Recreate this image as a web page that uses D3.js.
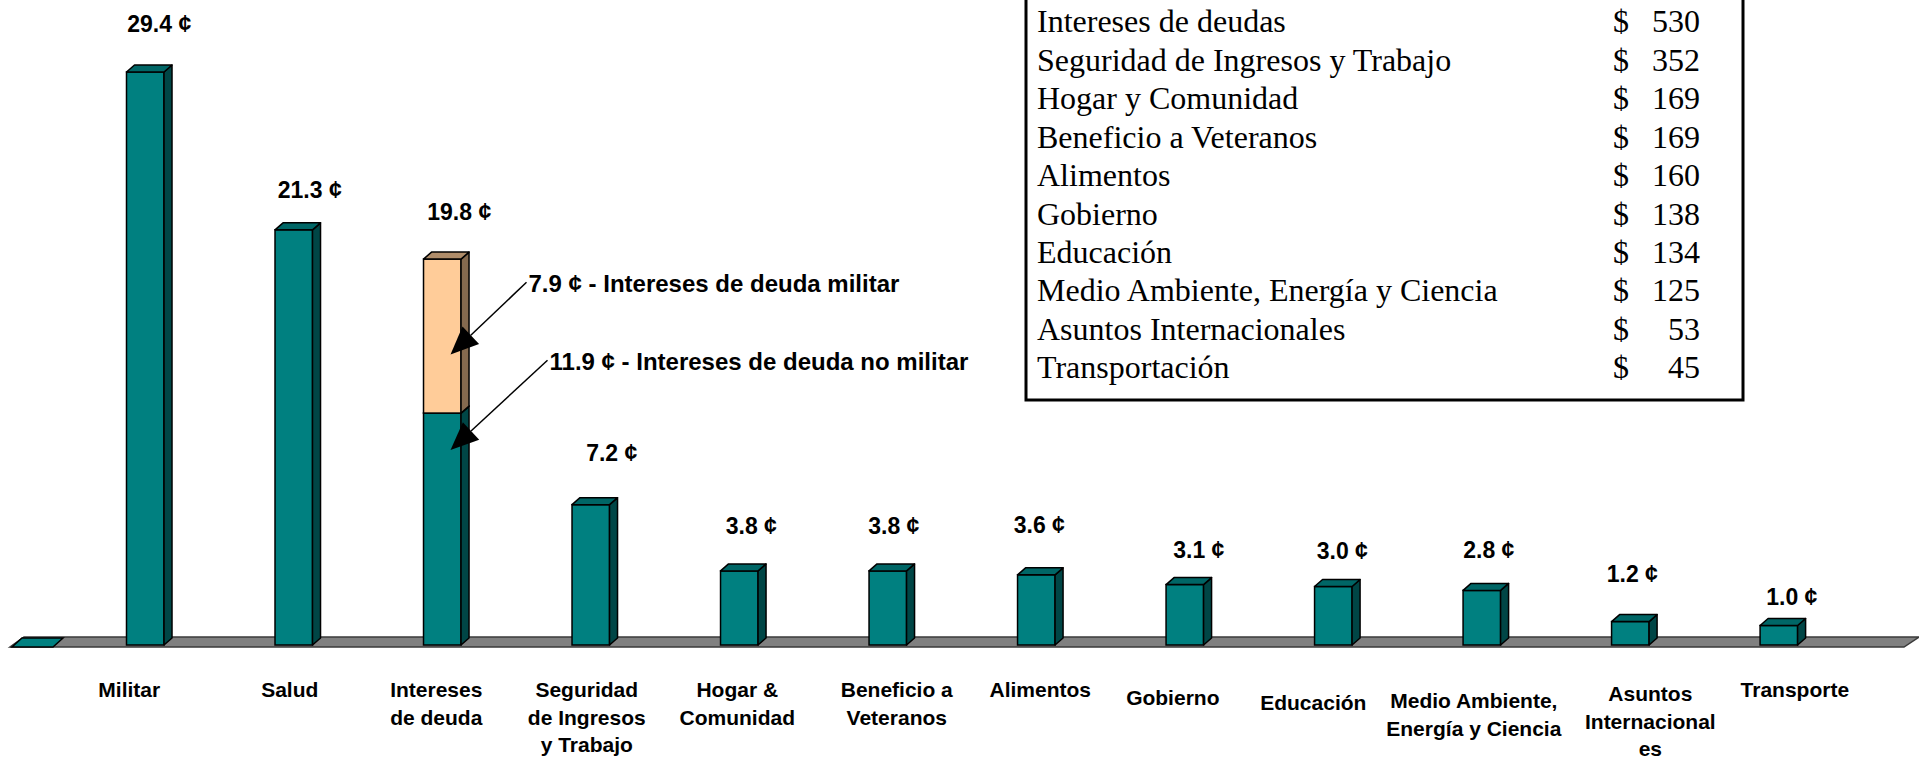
<!DOCTYPE html>
<html>
<head>
<meta charset="utf-8">
<script src="https://cdn.jsdelivr.net/npm/d3@7"></script>
<style>
    body { margin: 0; background: #ffffff; }
    .value { font-family: "Liberation Sans", Arial, sans-serif; font-weight: bold; font-size: 23px; fill: #000; }
    .cat { font-family: "Liberation Sans", Arial, sans-serif; font-weight: bold; font-size: 21px; fill: #000; }
    .note { font-family: "Liberation Sans", Arial, sans-serif; font-weight: bold; font-size: 24px; fill: #000; }
    .table { font-family: "Liberation Serif", "Times New Roman", serif; font-size: 32px; fill: #000; }
</style>
</head>
<body>
<div id="chart"></div>
<script>
var width = 1919;
var height = 760;

// DATA
var categories = ['Militar', 'Salud', 'Intereses de deuda', 'Seguridad de Ingresos y Trabajo',
    'Hogar & Comunidad', 'Beneficio a Veteranos', 'Alimentos', 'Gobierno', 'Educación',
    'Medio Ambiente, Energía y Ciencia', 'Asuntos Internacionales', 'Transporte'];
// how excel wrapped the axis labels
var categoryLines = [
    ['Militar'], ['Salud'], ['Intereses', 'de deuda'], ['Seguridad', 'de Ingresos', 'y Trabajo'],
    ['Hogar &', 'Comunidad'], ['Beneficio a', 'Veteranos'], ['Alimentos'], ['Gobierno'], ['Educación'],
    ['Medio Ambiente,', 'Energía y Ciencia'], ['Asuntos', 'Internacional', 'es'], ['Transporte']];
var centsBase = [29.4, 21.3, 11.9, 7.2, 3.8, 3.8, 3.6, 3.1, 3.0, 2.8, 1.2, 1.0];    // teal
var centsMilitaryDebt = [0, 0, 7.9, 0, 0, 0, 0, 0, 0, 0, 0, 0];                    // peach

var noteMilitary = '7.9 ¢ - Intereses de deuda militar';
var noteNonMilitary = '11.9 ¢ - Intereses de deuda no militar';

var tableNames = ['Intereses de deudas', 'Seguridad de Ingresos y Trabajo', 'Hogar y Comunidad',
    'Beneficio a Veteranos', 'Alimentos', 'Gobierno', 'Educación',
    'Medio Ambiente, Energía y Ciencia', 'Asuntos Internacionales', 'Transportación'];
var tableDollars = [530, 352, 169, 169, 160, 138, 134, 125, 53, 45];

// LAYOUT: labels were dragged around by hand in the original slide
var catNudgeX = [-16, -4, -6, -4, -2, 9, 4, -12, -20, -8, 20, 16];
var catNudgeY = [0, 0, 0, 0, 0, 0, 0, 8, 13, 11, 4, 0];
var valNudgeX = [2, 4, 5, 9, 0, -6, -9, 2, -3, -5, -10, 1];
var valNudgeY = [-2, 6, -1, -6, 1, 1, -4, 11, 10, 6, -2, 17];

// STYLE
var COLOR_TEAL = '#008080';
var COLOR_TEAL_TOP = '#006666';
var COLOR_TEAL_SIDE = '#004646';
var COLOR_PEACH = '#ffcc99';
var COLOR_PEACH_TOP = '#b08d6a';
var COLOR_PEACH_SIDE = '#856a4f';
var COLOR_FLOOR = '#808080';

var DX = 8;   // 3d depth
var DY = 7;
var BASE = 645;

var svg = d3.select('#chart')
    .append('svg')
    .attr('width', width)
    .attr('height', height)

var x = d3.scaleBand()
    .domain(categories)
    .range([126.5, 1797.6])
    .paddingInner(0.7474)
    .paddingOuter(0)

var y = d3.scaleLinear()
    .domain([0, 30])
    .range([BASE, BASE - 30 * 19.49])

var bw = x.bandwidth();

// floor
svg.append('polygon')
    .attr('points', [[10, BASE + 2], [1904, BASE + 2], [1919, BASE - 8], [24, BASE - 8]].join(' '))
    .attr('fill', COLOR_FLOOR)
    .attr('stroke', '#3a3a3a')
    .attr('stroke-width', 1.5)

// flat empty series piece at the left end of the floor
svg.append('polygon')
    .attr('points', [[12, BASE + 2], [53, BASE + 2], [63, BASE - 7], [22, BASE - 7]].join(' '))
    .attr('fill', COLOR_TEAL)
    .attr('stroke', '#000')
    .attr('stroke-width', 1.5)

var drawBlock = function (g, x0, v0, v1, front, top, side) {
    var yb = y(v0), yt = y(v1);
    g.append('rect')
        .attr('x', x0).attr('y', yt)
        .attr('width', bw).attr('height', yb - yt)
        .attr('fill', front)
        .attr('stroke', '#000').attr('stroke-width', 1.5)
    g.append('polygon')
        .attr('points', [[x0 + bw, yb], [x0 + bw + DX, yb - DY], [x0 + bw + DX, yt - DY], [x0 + bw, yt]].join(' '))
        .attr('fill', side)
        .attr('stroke', '#000').attr('stroke-width', 1.5).attr('stroke-linejoin', 'round')
    g.append('polygon')
        .attr('points', [[x0, yt], [x0 + DX, yt - DY], [x0 + bw + DX, yt - DY], [x0 + bw, yt]].join(' '))
        .attr('fill', top)
        .attr('stroke', '#000').attr('stroke-width', 1.5).attr('stroke-linejoin', 'round')
}

var bars = svg.append('g')
categories.forEach(function (c, i) {
    var x0 = x(c);
    drawBlock(bars, x0, 0, centsBase[i], COLOR_TEAL, COLOR_TEAL_TOP, COLOR_TEAL_SIDE);
    if (centsMilitaryDebt[i] > 0)
        drawBlock(bars, x0, centsBase[i], centsBase[i] + centsMilitaryDebt[i],
            COLOR_PEACH, COLOR_PEACH_TOP, COLOR_PEACH_SIDE);
})

// value labels
svg.append('g')
    .selectAll('text')
    .data(categories)
    .enter().append('text')
    .attr('class', 'value')
    .attr('text-anchor', 'middle')
    .attr('x', function (d, i) { return x(d) + bw / 2 + 12 + valNudgeX[i]; })
    .attr('y', function (d, i) { return y(centsBase[i] + centsMilitaryDebt[i]) - DY - 31 + valNudgeY[i]; })
    .text(function (d, i) { return (centsBase[i] + centsMilitaryDebt[i]).toFixed(1) + ' ¢'; })

// category labels
var cats = svg.append('g')
categories.forEach(function (c, i) {
    var t = cats.append('text')
        .attr('class', 'cat')
        .attr('text-anchor', 'middle')
        .attr('y', 697 + catNudgeY[i])
    categoryLines[i].forEach(function (line, k) {
        t.append('tspan')
            .attr('x', x(c) + bw / 2 + catNudgeX[i])
            .attr('dy', k == 0 ? 0 : 27.7)
            .text(line)
    })
})

// annotations with arrows on the debt bar
var debt = categories[2];
var notes = [
    { text: noteMilitary, tx: x(debt) + 105, ty: y(18.1), tipY: y(14.9) },
    { text: noteNonMilitary, tx: x(debt) + 126, ty: y(14.1), tipY: y(10.0) }
];

var ann = svg.append('g')
notes.forEach(function (n) {
    ann.append('text')
        .attr('class', 'note')
        .attr('x', n.tx)
        .attr('y', n.ty)
        .text(n.text)

    var x1 = n.tx - 2, y1 = n.ty - 10;
    var x2 = x(debt) + 27, y2 = n.tipY;
    var len = Math.sqrt((x2 - x1) * (x2 - x1) + (y2 - y1) * (y2 - y1));
    var ux = (x2 - x1) / len, uy = (y2 - y1) / len;
    var headL = 28, headW = 12;
    var bx = x2 - ux * headL, by = y2 - uy * headL;

    ann.append('line')
        .attr('x1', x1).attr('y1', y1)
        .attr('x2', bx).attr('y2', by)
        .attr('stroke', '#000')
        .attr('stroke-width', 1.5)
    ann.append('polygon')
        .attr('points', [[x2, y2], [bx - uy * headW, by + ux * headW], [bx + uy * headW, by - ux * headW]].join(' '))
        .attr('fill', '#000')
})

// table box top right
var tbl = svg.append('g')
tbl.append('rect')
    .attr('x', 1026)
    .attr('y', -10)
    .attr('width', 717)
    .attr('height', 410)
    .attr('fill', '#fff')
    .attr('stroke', '#000')
    .attr('stroke-width', 3)

var row = d3.scaleLinear()
    .domain([0, tableNames.length - 1])
    .range([32.3, 378.3])

tableNames.forEach(function (name, i) {
    tbl.append('text')
        .attr('class', 'table')
        .attr('x', 1037)
        .attr('y', row(i))
        .text(name)
    tbl.append('text')
        .attr('class', 'table')
        .attr('x', 1613)
        .attr('y', row(i))
        .text('$')
    tbl.append('text')
        .attr('class', 'table')
        .attr('text-anchor', 'end')
        .attr('x', 1700)
        .attr('y', row(i))
        .text(tableDollars[i])
})
</script>
</body>
</html>
